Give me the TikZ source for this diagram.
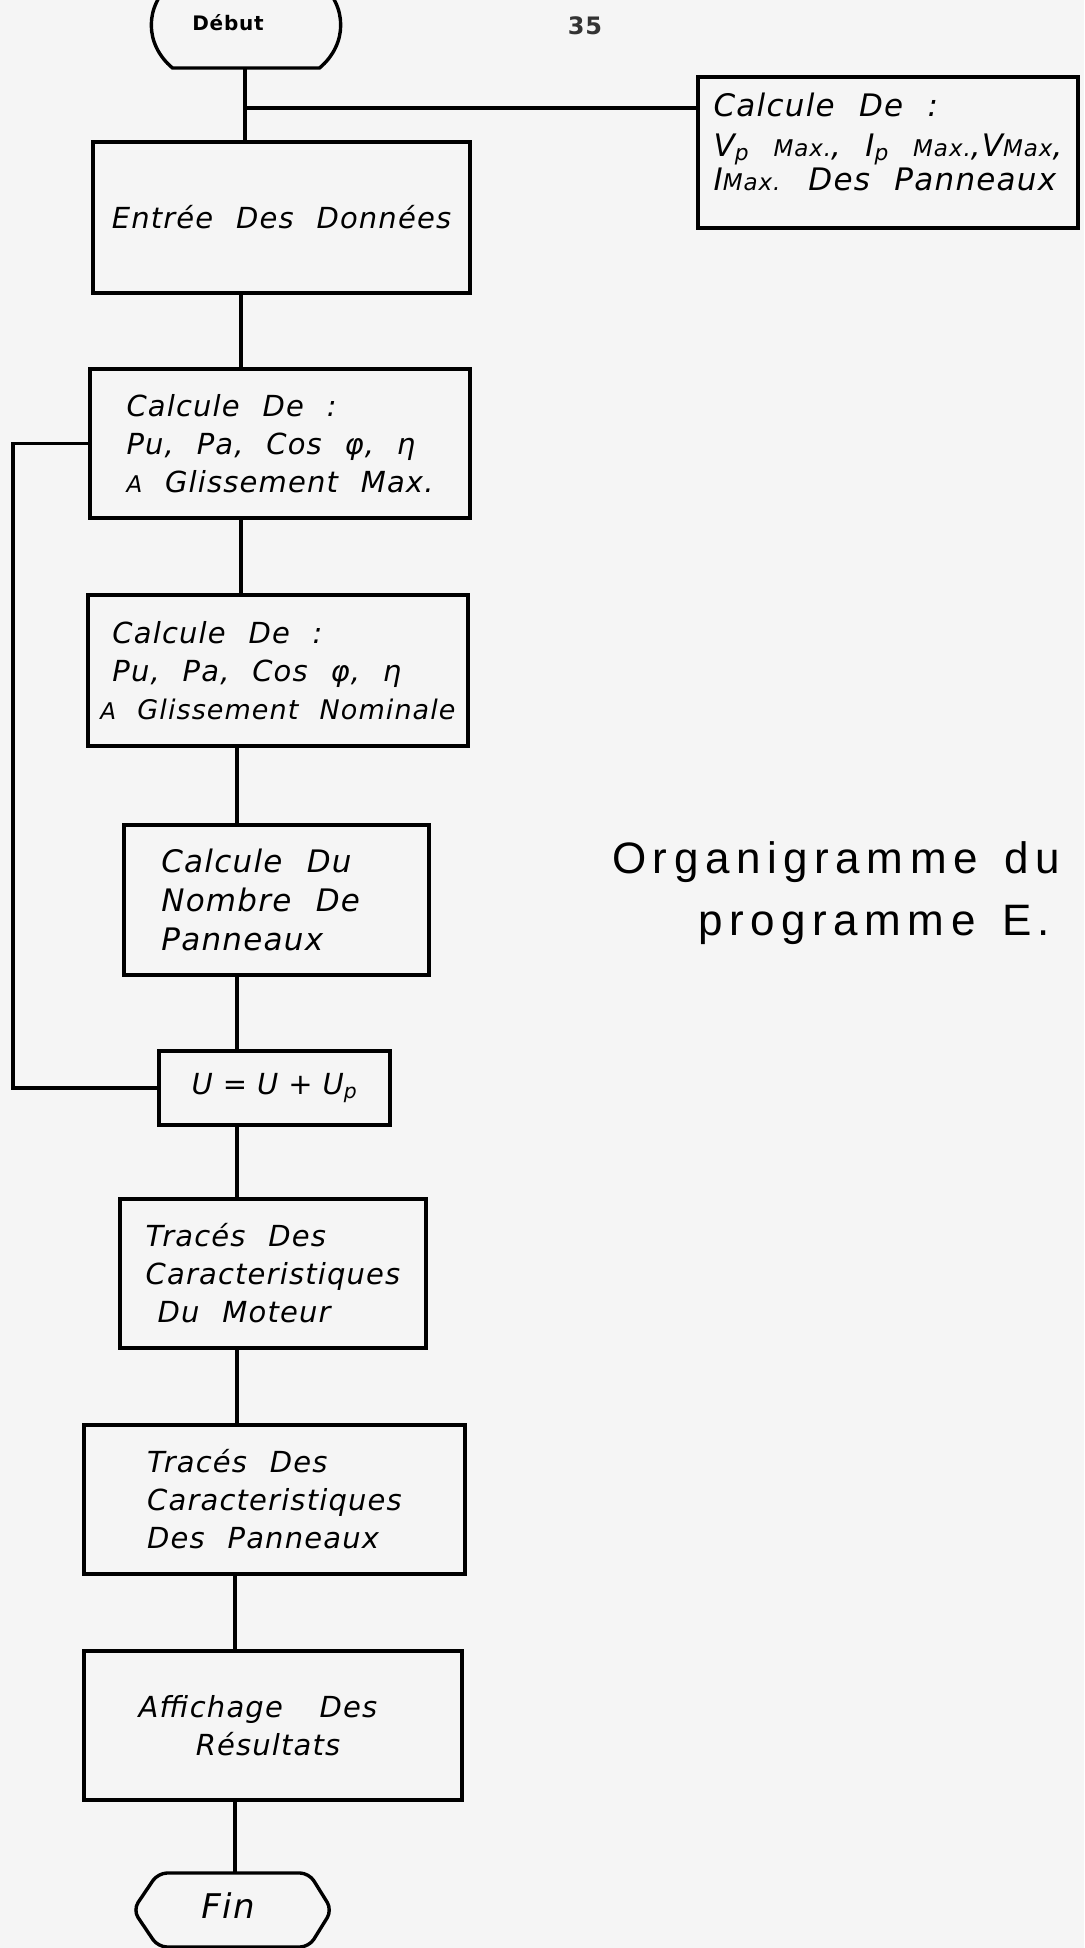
\documentclass[tikz,border=0pt]{standalone}
\usepackage{fontspec}
\setmainfont{DejaVu Sans}
\newfontfamily\hand[LetterSpace=4,WordSpace=2.2]{DejaVu Sans}
\newfontfamily\orgfont[LetterSpace=15,WordSpace=1.4]{Liberation Sans}
\newcommand\smx[1]{{\fontsize{23}{30}\selectfont #1}}
\begin{document}
\begin{tikzpicture}[x=1pt,y=-1pt,
  every node/.style={inner sep=0pt,outer sep=0pt},
  box/.style={draw,line width=3.4pt,rectangle,align=left,
    font=\hand\itshape\fontsize{29}{38}\selectfont},
  term/.style={draw=none,rectangle},
  conn/.style={line width=3.4pt},
  paper/.style={fill=black!4}]
\useasboundingbox (0,0) rectangle (1084,1948);
\clip (0,0) rectangle (1084,1948);
\fill[paper] (0,0) rectangle (1084,1948);
% spine coordinates
\coordinate (s1) at (245,0);
\coordinate (s2) at (241,0);
\coordinate (s3) at (237,0);
\coordinate (s4) at (235,0);
\coordinate (lp) at (13,0);
% page mark
\node[text=black!80,font=\hand\bfseries\fontsize{24}{30}\selectfont] (pg) at (585,26) {35};
% terminals
\node[term,minimum width=195pt,minimum height=86pt] (debut) at (246,25) {};
\draw[conn] ([xshift=24pt]debut.south west) to[bend left=50,looseness=1.1] ([xshift=24pt]debut.north west)
  -- ([xshift=-24pt]debut.north east) to[bend left=50,looseness=1.1] ([xshift=-24pt]debut.south east) -- cycle;
\node[font=\hand\bfseries\fontsize{20}{26}\selectfont] (debutt) at (228,23) {Début};
\node[term,minimum width=199pt,minimum height=74pt] (fin) at (232.5,1910) {};
\draw[conn,rounded corners=9pt] ([xshift=25pt]fin.north west) -- ([xshift=-23pt]fin.north east) -- (fin.east)
  -- ([xshift=-23pt]fin.south east) -- ([xshift=25pt]fin.south west) -- (fin.west) -- cycle;
\node[font=\hand\itshape\fontsize{34}{40}\selectfont] (fint) at (228,1906) {Fin};
% boxes
\node[box,minimum width=377pt,minimum height=151pt] (entree) at (281.5,217.5) {Entrée Des Données};
\node[box,font=\hand\itshape\fontsize{31}{38}\selectfont,minimum width=380pt,minimum height=151pt] (calcR) at (888,152.5)
  {Calcule De :\\[2pt]V\textsubscript{p} \smx{Max.}, I\textsubscript{p} \smx{Max.},V\smx{Max},\\[-4pt]I\smx{Max.} Des Panneaux\\[-16pt]};
\node[box,minimum width=380pt,minimum height=149pt] (b2) at (280,443.5)
  {Calcule De :\\Pu, Pa, Cos φ, η\\\smx{A} Glissement Max.};
\node[box,minimum width=380pt,minimum height=151pt] (b3) at (278,670.5)
  {\hspace{12pt}Calcule De :\\\hspace{12pt}Pu, Pa, Cos φ, η\\{\fontsize{27}{38}\selectfont\smx{A} Glissement Nominale}};
\node[box,font=\hand\itshape\fontsize{31}{39}\selectfont,minimum width=305pt,minimum height=150pt] (b4) at (276.5,900)
  {Calcule Du\hspace*{40pt}\\Nombre De\\Panneaux};
\node[box,minimum width=231pt,minimum height=74pt] (ubox) at (274.5,1088)
  {U\hspace{10pt}=\hspace{10pt}U\hspace{10pt}+\hspace{10pt}U\textsubscript{p}};
\node[box,minimum width=306pt,minimum height=149pt] (b5) at (273,1273.5)
  {Tracés Des\\Caracteristiques\\\hspace{12pt}Du Moteur};
\node[box,minimum width=381pt,minimum height=149pt] (b6) at (274.5,1499.5)
  {Tracés Des\\Caracteristiques\hspace*{40pt}\\Des Panneaux};
\node[box,align=center,minimum width=378pt,minimum height=149pt] (b7) at (273,1725.5)
  {Affichage\hspace{14pt} Des\hspace*{30pt}\\Résultats\hspace*{10pt}};
% title text
\node[anchor=west,align=left,font=\orgfont\fontsize{44}{62}\selectfont] (org) at (612,893)
  {Organigramme du\\\hspace{86pt}programme E.};
% connectors
\draw[conn] (debut.south -| s1) -- (entree.north -| s1);
\coordinate (br) at (debut.south -| s1);
\draw[conn] ([yshift=-40pt]br) -- ([yshift=-40pt]br -| calcR.west);
\draw[conn] (entree.south -| s2) -- (b2.north -| s2);
\draw[conn] (b2.south -| s2) -- (b3.north -| s2);
\draw[conn] (b3.south -| s3) -- (b4.north -| s3);
\draw[conn] (b4.south -| s3) -- (ubox.north -| s3);
\draw[conn] (ubox.south -| s3) -- (b5.north -| s3);
\draw[conn] (b5.south -| s3) -- (b6.north -| s3);
\draw[conn] (b6.south -| s4) -- (b7.north -| s4);
\draw[conn] (b7.south -| s4) -- (fin.north -| s4);
\draw[conn] (b2.west) -- (b2.west -| lp) |- (ubox.west);
\end{tikzpicture}
\end{document}
